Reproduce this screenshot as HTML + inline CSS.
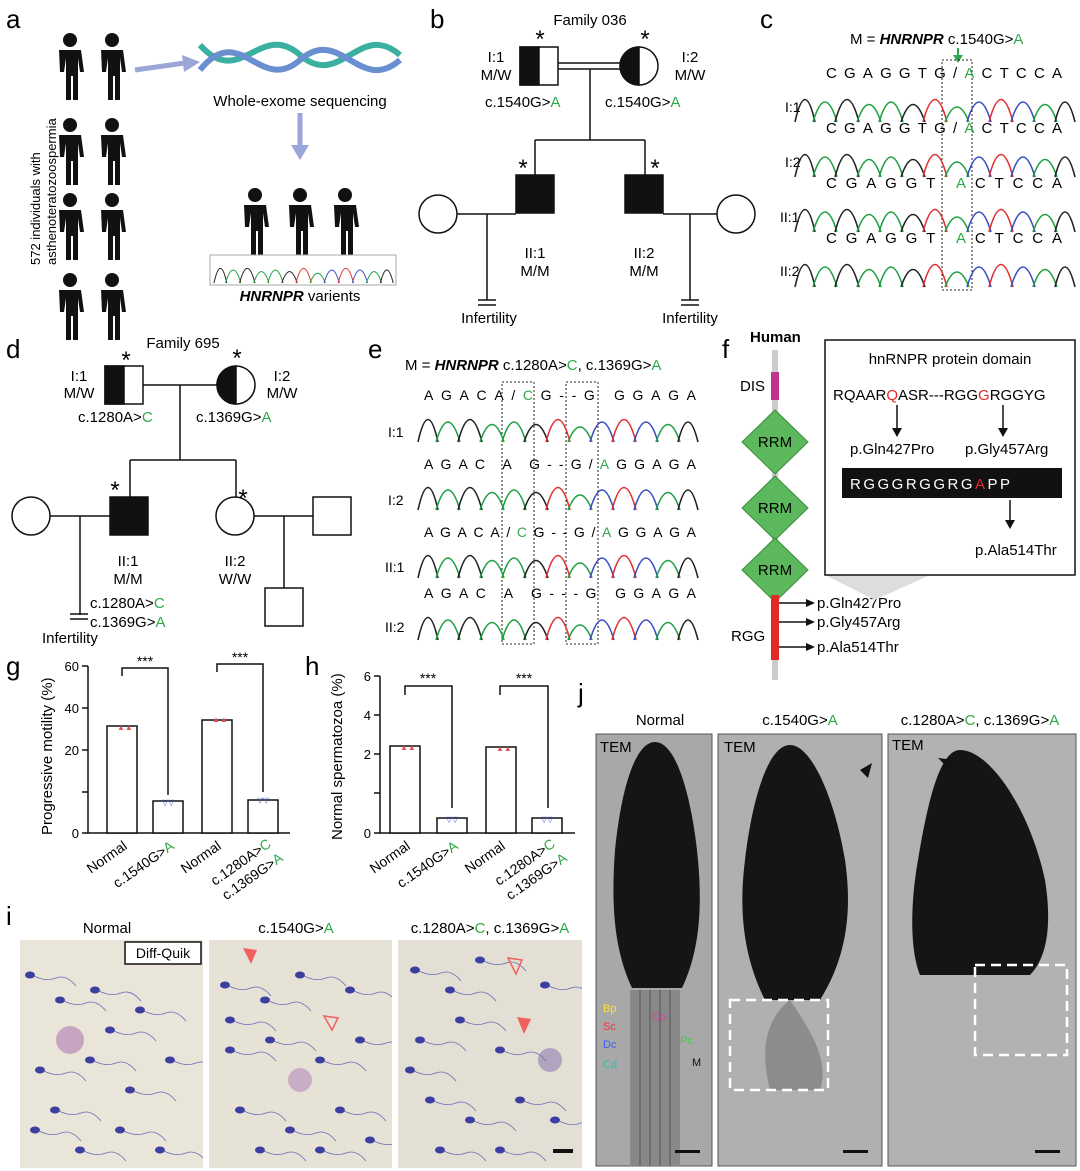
<!DOCTYPE html>
<html><head><meta charset="utf-8"><style>
html,body{margin:0;padding:0;background:#fff}
svg{display:block;font-family:"Liberation Sans",Arial,sans-serif}
.L{font-size:26px}
.t{font-size:15px}
.s{font-size:13px}
.g{fill:#2ea84a}
</style></head><body>
<svg width="1080" height="1171" viewBox="0 0 1080 1171" xmlns="http://www.w3.org/2000/svg">
<defs>
<g id="p"><circle cx="0" cy="-30" r="7"/><path d="M-11,-20 h22 l3,22 h-4 l-2,-14 v42 h-5 v-24 h-2 v24 h-5 v-42 l-2,14 h-4z"/></g>
<g id="ch" fill="none" stroke-width="1.6">
<path d="M0,40 Q10,-5 20,40" stroke="#222"/><path d="M18,40 Q30,0 42,40" stroke="#1fa040"/><path d="M40,40 Q52,-5 64,40" stroke="#222"/><path d="M62,40 Q74,5 86,40" stroke="#1fa040"/><path d="M84,40 Q96,0 108,40" stroke="#1fa040"/><path d="M106,40 Q118,5 130,40" stroke="#222"/><path d="M128,40 Q140,-5 152,40" stroke="#e03030"/><path d="M150,40 Q162,10 174,40" stroke="#1fa040"/><path d="M172,40 Q184,0 196,40" stroke="#3a4fc0"/><path d="M194,40 Q206,-5 218,40" stroke="#e03030"/><path d="M216,40 Q228,0 240,40" stroke="#3a4fc0"/><path d="M238,40 Q250,5 262,40" stroke="#1fa040"/><path d="M260,40 Q270,0 280,40" stroke="#222"/>
</g>
<g id="sp" fill="#3c3fa0"><ellipse cx="0" cy="0" rx="5" ry="3.5"/><path d="M4,1 q12,6 22,2 t20,8" fill="none" stroke="#6a6ab8" stroke-width="0.8"/></g>
<clipPath id="c1"><rect x="20" y="940" width="183" height="228"/></clipPath>
<clipPath id="c2"><rect x="209" y="940" width="183" height="228"/></clipPath>
<clipPath id="c3"><rect x="398" y="940" width="184" height="228"/></clipPath>
</defs>
<!-- a -->
<text x="6" y="28" class="L">a</text>
<g fill="#111">
<use href="#p" x="70" y="70"/><use href="#p" x="112" y="70"/>
<use href="#p" x="70" y="155"/><use href="#p" x="112" y="155"/>
<use href="#p" x="70" y="230"/><use href="#p" x="112" y="230"/>
<use href="#p" x="70" y="310"/><use href="#p" x="112" y="310"/>
<use href="#p" x="255" y="225"/><use href="#p" x="300" y="225"/><use href="#p" x="345" y="225"/>
</g>
<text transform="translate(40,265) rotate(-90)" class="s">572 individuals with</text>
<text transform="translate(56,265) rotate(-90)" class="s">asthenoteratozoospermia</text>
<path d="M135,70 L185,63" stroke="#9aa6d8" stroke-width="5"/><path d="M182,55 L200,62 L184,72z" fill="#9aa6d8"/>
<g fill="none" stroke-width="6">
<path d="M200,45 C240,90 260,20 300,55 C340,90 360,20 400,55" stroke="#3bb0a0"/>
<path d="M200,70 C240,20 260,95 300,60 C340,25 360,95 400,60" stroke="#6a8fd0"/>
</g>
<text x="300" y="106" class="t" text-anchor="middle">Whole-exome sequencing</text>
<path d="M300,113 V148" stroke="#9aa6d8" stroke-width="5"/><path d="M291,145 L300,160 L309,145z" fill="#9aa6d8"/>
<rect x="210" y="255" width="186" height="30" fill="#fff" stroke="#aaa"/>
<g transform="translate(214,257) scale(0.64,0.65)"><use href="#ch"/></g>
<text x="300" y="301" class="t" text-anchor="middle" font-style="italic" font-weight="bold">HNRNPR <tspan font-style="normal" font-weight="normal">varients</tspan></text>
<!-- b -->
<text x="430" y="28" class="L">b</text>
<text x="590" y="25" class="t" text-anchor="middle">Family 036</text>
<g stroke="#111" stroke-width="1.5" fill="none">
<rect x="520" y="47" width="38" height="38"/><rect x="520" y="47" width="19" height="38" fill="#111"/>
<circle cx="639" cy="66" r="19"/><path d="M639,47 A19,19 0 0,0 639,85z" fill="#111"/>
<path d="M558,63 H620 M558,69 H620 M590,69 V140 M535,140 H645 M535,140 V175 M645,140 V175"/>
<rect x="516" y="175" width="38" height="38" fill="#111"/><rect x="625" y="175" width="38" height="38" fill="#111"/>
<circle cx="438" cy="214" r="19"/><circle cx="736" cy="214" r="19"/>
<path d="M457,214 H516 M663,214 H717 M487,214 V300 M478,300 H496 M478,305 H496 M690,214 V300 M681,300 H699 M681,305 H699"/>
</g>
<text x="540" y="47" font-size="24" text-anchor="middle">*</text><text x="645" y="47" font-size="24" text-anchor="middle">*</text>
<text x="523" y="176" font-size="24" text-anchor="middle">*</text><text x="655" y="176" font-size="24" text-anchor="middle">*</text>
<text x="496" y="62" class="t" text-anchor="middle">I:1</text><text x="496" y="80" class="t" text-anchor="middle">M/W</text>
<text x="690" y="62" class="t" text-anchor="middle">I:2</text><text x="690" y="80" class="t" text-anchor="middle">M/W</text>
<text x="485" y="107" class="t">c.1540G&gt;<tspan class="g">A</tspan></text><text x="605" y="107" class="t">c.1540G&gt;<tspan class="g">A</tspan></text>
<text x="535" y="258" class="t" text-anchor="middle">II:1</text><text x="535" y="276" class="t" text-anchor="middle">M/M</text>
<text x="644" y="258" class="t" text-anchor="middle">II:2</text><text x="644" y="276" class="t" text-anchor="middle">M/M</text>
<text x="489" y="323" class="t" text-anchor="middle">Infertility</text><text x="690" y="323" class="t" text-anchor="middle">Infertility</text>
<!-- c -->
<text x="760" y="28" class="L">c</text>
<text x="850" y="44" class="t">M = <tspan font-style="italic" font-weight="bold">HNRNPR</tspan> c.1540G&gt;<tspan class="g">A</tspan></text>
<path d="M958,48 V56" stroke="#2ea84a" stroke-width="2"/><path d="M953,55 L958,63 L963,55z" fill="#2ea84a"/>
<rect x="942" y="60" width="30" height="230" fill="none" stroke="#222" stroke-dasharray="2,2"/>
<g font-size="15">
<text x="826" y="78" textLength="236" lengthAdjust="spacing">CGAGGTG/<tspan class="g">A</tspan>CTCCA</text>
<text x="826" y="133" textLength="236" lengthAdjust="spacing">CGAGGTG/<tspan class="g">A</tspan>CTCCA</text>
<text x="826" y="188" textLength="236" lengthAdjust="spacing">CGAGGT  <tspan class="g">A</tspan>CTCCA</text>
<text x="826" y="243" textLength="236" lengthAdjust="spacing">CGAGGT  <tspan class="g">A</tspan>CTCCA</text>
</g>
<g font-size="14"><text x="785" y="112">I:1</text><text x="785" y="167">I:2</text><text x="780" y="222">II:1</text><text x="780" y="276">II:2</text></g>
<use href="#ch" x="795" y="82"/><use href="#ch" x="795" y="137"/><use href="#ch" x="795" y="192"/><use href="#ch" x="795" y="247"/>
<!-- d -->
<text x="6" y="358" class="L">d</text>
<text x="183" y="348" class="t" text-anchor="middle">Family 695</text>
<g stroke="#111" stroke-width="1.5" fill="none">
<rect x="105" y="366" width="38" height="38"/><rect x="105" y="366" width="19" height="38" fill="#111"/>
<circle cx="236" cy="385" r="19"/><path d="M236,366 A19,19 0 0,0 236,404z" fill="#111"/>
<path d="M143,385 H217 M180,385 V460 M130,460 H236 M130,460 V497 M236,460 V497"/>
<rect x="110" y="497" width="38" height="38" fill="#111"/>
<circle cx="235" cy="516" r="19"/><circle cx="31" cy="516" r="19"/><rect x="313" y="497" width="38" height="38"/><rect x="265" y="588" width="38" height="38"/>
<path d="M50,516 H110 M254,516 H313 M80,516 V615 M70,614 H88 M70,619 H88 M284,516 V588"/>
</g>
<text x="126" y="368" font-size="24" text-anchor="middle">*</text><text x="237" y="366" font-size="24" text-anchor="middle">*</text>
<text x="115" y="498" font-size="24" text-anchor="middle">*</text><text x="243" y="506" font-size="24" text-anchor="middle">*</text>
<text x="79" y="381" class="t" text-anchor="middle">I:1</text><text x="79" y="398" class="t" text-anchor="middle">M/W</text>
<text x="282" y="381" class="t" text-anchor="middle">I:2</text><text x="282" y="398" class="t" text-anchor="middle">M/W</text>
<text x="78" y="422" class="t">c.1280A&gt;<tspan class="g">C</tspan></text><text x="196" y="422" class="t">c.1369G&gt;<tspan class="g">A</tspan></text>
<text x="128" y="566" class="t" text-anchor="middle">II:1</text><text x="128" y="584" class="t" text-anchor="middle">M/M</text>
<text x="235" y="566" class="t" text-anchor="middle">II:2</text><text x="235" y="584" class="t" text-anchor="middle">W/W</text>
<text x="90" y="608" class="t">c.1280A&gt;<tspan class="g">C</tspan></text><text x="90" y="627" class="t">c.1369G&gt;<tspan class="g">A</tspan></text>
<text x="42" y="643" class="t">Infertility</text>
<!-- e -->
<text x="368" y="358" class="L">e</text>
<text x="405" y="370" class="t">M = <tspan font-style="italic" font-weight="bold">HNRNPR</tspan> c.1280A&gt;<tspan class="g">C</tspan>, c.1369G&gt;<tspan class="g">A</tspan></text>
<rect x="502" y="382" width="32" height="262" fill="none" stroke="#222" stroke-dasharray="2,2"/>
<rect x="566" y="382" width="32" height="262" fill="none" stroke="#222" stroke-dasharray="2,2"/>
<g font-size="14">
<text x="424" y="400" textLength="272" lengthAdjust="spacing">AGACA/<tspan class="g">C</tspan>G--G GGAGA</text>
<text x="424" y="469" textLength="272" lengthAdjust="spacing">AGAC A G--G/<tspan class="g">A</tspan>GGAGA</text>
<text x="424" y="537" textLength="272" lengthAdjust="spacing">AGACA/<tspan class="g">C</tspan>G--G/<tspan class="g">A</tspan>GGAGA</text>
<text x="424" y="598" textLength="272" lengthAdjust="spacing">AGAC A G---G GGAGA</text>
<text x="388" y="437">I:1</text><text x="388" y="505">I:2</text><text x="385" y="572">II:1</text><text x="385" y="632">II:2</text>
</g>
<use href="#ch" x="418" y="402"/><use href="#ch" x="418" y="470"/><use href="#ch" x="418" y="538"/><use href="#ch" x="418" y="600"/>
<!-- f -->
<text x="722" y="358" class="L">f</text>
<text x="750" y="342" class="t" font-weight="bold">Human</text>
<rect x="772" y="350" width="6" height="330" fill="#ccc"/>
<rect x="771" y="372" width="8" height="28" fill="#c0348c"/>
<text x="740" y="391" class="t">DIS</text>
<g fill="#5cb85c" stroke="#3d8b3d"><path d="M775,410 L808,442 L775,474 L742,442z"/><path d="M775,476 L808,508 L775,540 L742,508z"/><path d="M775,538 L808,570 L775,602 L742,570z"/></g>
<g class="t" text-anchor="middle"><text x="775" y="447">RRM</text><text x="775" y="513">RRM</text><text x="775" y="575">RRM</text></g>
<rect x="771" y="595" width="8" height="65" fill="#e32828"/>
<text x="731" y="641" class="t">RGG</text>
<g stroke="#111" stroke-width="1.5"><path d="M779,603 H808 M779,622 H808 M779,647 H808"/></g>
<g fill="#111"><path d="M806,599 L815,603 L806,607z"/><path d="M806,618 L815,622 L806,626z"/><path d="M806,643 L815,647 L806,651z"/></g>
<text x="817" y="608" class="t">p.Gln427Pro</text><text x="817" y="627" class="t">p.Gly457Arg</text><text x="817" y="652" class="t">p.Ala514Thr</text>
<path d="M825,575 L930,575 L875,600z" fill="#ddd"/>
<rect x="825" y="340" width="250" height="235" fill="#fff" stroke="#111" stroke-width="1.5"/>
<text x="950" y="364" class="t" text-anchor="middle">hnRNPR protein domain</text>
<text x="833" y="400" class="t">RQAAR<tspan fill="#e32828">Q</tspan>ASR---RGG<tspan fill="#e32828">G</tspan>RGGYG</text>
<g stroke="#111" stroke-width="1.5"><path d="M897,405 V430 M1003,405 V430 M1010,500 V522"/></g>
<g fill="#111"><path d="M892,428 L897,437 L902,428z"/><path d="M998,428 L1003,437 L1008,428z"/><path d="M1005,520 L1010,529 L1015,520z"/></g>
<text x="850" y="454" class="t">p.Gln427Pro</text><text x="965" y="454" class="t">p.Gly457Arg</text>
<rect x="842" y="468" width="220" height="30" fill="#111"/>
<text x="850" y="489" class="t" fill="#fff" letter-spacing="2.5">RGGGRGGRG<tspan fill="#e32828">A</tspan>PP</text>
<text x="975" y="555" class="t">p.Ala514Thr</text>
<!-- g -->
<text x="6" y="675" class="L">g</text>
<text transform="translate(52,835) rotate(-90)" class="t">Progressive motility (%)</text>
<g stroke="#111" stroke-width="1.5" fill="#fff">
<path d="M88,666 V833 H290"/>
<path d="M82,666 H88 M82,708 H88 M82,750 H88 M82,792 H88 M82,833 H88"/>
<rect x="107" y="726" width="30" height="107"/><rect x="153" y="801" width="30" height="32"/><rect x="202" y="720" width="30" height="113"/><rect x="248" y="800" width="30" height="33"/>
<path d="M122,676 V668 H168 V795 M217,672 V664 H263 V792" fill="none"/>
</g>
<g font-size="13" text-anchor="end"><text x="79" y="671">60</text><text x="79" y="713">40</text><text x="79" y="755">20</text><text x="79" y="838">0</text></g>
<text x="145" y="666" font-size="14" text-anchor="middle">***</text><text x="240" y="662" font-size="14" text-anchor="middle">***</text>
<g fill="#e85050" font-size="8"><text x="117" y="730">▲▲</text><text x="212" y="722">▲▲</text></g>
<g fill="#4a5ad0" font-size="8"><text x="162" y="805">▽▽</text><text x="257" y="803">▽▽</text></g>
<g font-size="14" text-anchor="end">
<text transform="translate(128,848) rotate(-35)">Normal</text>
<text transform="translate(175,848) rotate(-35)">c.1540G&gt;<tspan class="g">A</tspan></text>
<text transform="translate(222,848) rotate(-35)">Normal</text>
<text transform="translate(272,846) rotate(-35)">c.1280A&gt;<tspan class="g">C</tspan></text>
<text transform="translate(284,860) rotate(-35)">c.1369G&gt;<tspan class="g">A</tspan></text></g>
<!-- h -->
<text x="305" y="675" class="L">h</text>
<text transform="translate(342,840) rotate(-90)" class="t">Normal spermatozoa (%)</text>
<g stroke="#111" stroke-width="1.5" fill="#fff">
<path d="M380,676 V833 H575"/>
<path d="M374,676 H380 M374,715 H380 M374,754 H380 M374,793 H380 M374,833 H380"/>
<rect x="390" y="746" width="30" height="87"/><rect x="437" y="818" width="30" height="15"/><rect x="486" y="747" width="30" height="86"/><rect x="532" y="818" width="30" height="15"/>
<path d="M405,695 V686 H452 V808 M500,695 V686 H548 V808" fill="none"/>
</g>
<g font-size="13" text-anchor="end"><text x="371" y="681">6</text><text x="371" y="720">4</text><text x="371" y="759">2</text><text x="371" y="838">0</text></g>
<text x="428" y="683" font-size="14" text-anchor="middle">***</text><text x="524" y="683" font-size="14" text-anchor="middle">***</text>
<g fill="#e85050" font-size="8"><text x="400" y="750">▲▲</text><text x="496" y="751">▲▲</text></g>
<g fill="#4a5ad0" font-size="8"><text x="446" y="822">▽▽</text><text x="541" y="822">▽▽</text></g>
<g font-size="14" text-anchor="end">
<text transform="translate(411,848) rotate(-35)">Normal</text>
<text transform="translate(459,848) rotate(-35)">c.1540G&gt;<tspan class="g">A</tspan></text>
<text transform="translate(506,848) rotate(-35)">Normal</text>
<text transform="translate(556,846) rotate(-35)">c.1280A&gt;<tspan class="g">C</tspan></text>
<text transform="translate(568,860) rotate(-35)">c.1369G&gt;<tspan class="g">A</tspan></text></g>
<!-- i -->
<text x="6" y="925" class="L">i</text>
<text x="107" y="933" class="t" text-anchor="middle">Normal</text>
<text x="296" y="933" class="t" text-anchor="middle">c.1540G&gt;<tspan class="g">A</tspan></text>
<text x="490" y="933" class="t" text-anchor="middle">c.1280A&gt;<tspan class="g">C</tspan>, c.1369G&gt;<tspan class="g">A</tspan></text>
<rect x="20" y="940" width="183" height="228" fill="#e9e5d8"/>
<rect x="209" y="940" width="183" height="228" fill="#e6e2d6"/>
<rect x="398" y="940" width="184" height="228" fill="#e3dfd4"/>
<circle cx="70" cy="1040" r="14" fill="#b58ab8" opacity="0.7"/>
<circle cx="300" cy="1080" r="12" fill="#b58ab8" opacity="0.6"/><circle cx="550" cy="1060" r="12" fill="#9a8ab8" opacity="0.7"/>
<g clip-path="url(#c1)">
<use href="#sp" x="30" y="975"/><use href="#sp" x="60" y="1000"/><use href="#sp" x="95" y="990"/><use href="#sp" x="140" y="1010"/><use href="#sp" x="40" y="1070"/><use href="#sp" x="90" y="1060"/><use href="#sp" x="130" y="1090"/><use href="#sp" x="170" y="1060"/><use href="#sp" x="35" y="1130"/><use href="#sp" x="80" y="1150"/><use href="#sp" x="120" y="1130"/><use href="#sp" x="160" y="1150"/><use href="#sp" x="110" y="1030"/><use href="#sp" x="55" y="1110"/>
</g>
<g clip-path="url(#c2)">
<use href="#sp" x="225" y="985"/><use href="#sp" x="265" y="1000"/><use href="#sp" x="300" y="975"/><use href="#sp" x="350" y="990"/><use href="#sp" x="230" y="1050"/><use href="#sp" x="270" y="1040"/><use href="#sp" x="320" y="1060"/><use href="#sp" x="360" y="1040"/><use href="#sp" x="240" y="1110"/><use href="#sp" x="290" y="1130"/><use href="#sp" x="340" y="1110"/><use href="#sp" x="260" y="1150"/><use href="#sp" x="320" y="1150"/><use href="#sp" x="230" y="1020"/><use href="#sp" x="370" y="1140"/>
</g>
<g clip-path="url(#c3)">
<use href="#sp" x="415" y="970"/><use href="#sp" x="450" y="990"/><use href="#sp" x="480" y="960"/><use href="#sp" x="545" y="985"/><use href="#sp" x="420" y="1040"/><use href="#sp" x="460" y="1020"/><use href="#sp" x="500" y="1050"/><use href="#sp" x="430" y="1100"/><use href="#sp" x="470" y="1120"/><use href="#sp" x="520" y="1100"/><use href="#sp" x="440" y="1150"/><use href="#sp" x="500" y="1150"/><use href="#sp" x="555" y="1120"/><use href="#sp" x="410" y="1070"/>
</g>
<rect x="125" y="942" width="76" height="22" fill="#fff" stroke="#111" stroke-width="1.5"/>
<text x="163" y="958" font-size="14" text-anchor="middle">Diff-Quik</text>
<path d="M243,948 L251,964 L257,950z" fill="#f06060"/>
<path d="M324,1016 L332,1030 L338,1018z" fill="none" stroke="#f06060" stroke-width="1.5"/>
<path d="M508,958 L516,974 L522,960z" fill="none" stroke="#f06060" stroke-width="1.5"/>
<path d="M517,1017 L524,1034 L531,1019z" fill="#f06060"/>
<rect x="553" y="1149" width="20" height="4" fill="#111"/>
<!-- j -->
<text x="578" y="702" class="L">j</text>
<text x="660" y="725" class="t" text-anchor="middle">Normal</text>
<text x="800" y="725" class="t" text-anchor="middle">c.1540G&gt;<tspan class="g">A</tspan></text>
<text x="980" y="725" class="t" text-anchor="middle">c.1280A&gt;<tspan class="g">C</tspan>, c.1369G&gt;<tspan class="g">A</tspan></text>
<rect x="596" y="734" width="116" height="432" fill="#a8a8a8" stroke="#555"/>
<rect x="718" y="734" width="164" height="432" fill="#b0b0b0" stroke="#555"/>
<rect x="888" y="734" width="188" height="432" fill="#b2b2b2" stroke="#555"/>
<rect x="630" y="990" width="50" height="176" fill="#888"/>
<g stroke="#666" stroke-width="1.5"><path d="M640,990 V1166 M650,990 V1166 M660,990 V1166 M670,990 V1166"/></g>
<path d="M655,742 C675,742 690,790 697,850 C703,905 700,950 682,988 L632,988 C614,950 611,905 615,850 C621,790 635,742 655,742z" fill="#151515"/>
<path d="M790,745 C812,745 835,800 845,860 C853,915 845,960 820,1000 L765,1000 C745,960 738,915 745,860 C752,800 768,745 790,745z" fill="#151515"/>
<path d="M960,750 C990,750 1030,810 1045,880 C1053,930 1045,960 1030,975 L920,975 C910,950 910,905 918,860 C928,800 940,750 960,750z" fill="#151515"/>
<path d="M790,1000 C810,1030 830,1060 820,1090 L770,1090 C760,1050 765,1020 790,1000z" fill="#8c8c8c"/>
<rect x="730" y="1000" width="98" height="90" fill="none" stroke="#fff" stroke-width="2.5" stroke-dasharray="10,6"/>
<rect x="975" y="965" width="92" height="90" fill="none" stroke="#fff" stroke-width="2.5" stroke-dasharray="10,6"/>
<g class="t" font-size="14"><text x="600" y="752">TEM</text><text x="724" y="752">TEM</text><text x="892" y="750">TEM</text></g>
<path d="M872,763 L860,770 L868,778z" fill="#111"/><path d="M938,758 L950,770 L954,760z" fill="#111"/>
<g font-size="11"><text x="603" y="1012" fill="#ffe030">Bp</text><text x="603" y="1030" fill="#ff3030">Sc</text><text x="603" y="1048" fill="#4060ff">Dc</text><text x="603" y="1068" fill="#30c0b0">Cd</text><text x="652" y="1020" fill="#e040a0">Cp</text><text x="680" y="1044" fill="#40d040">Pc</text><text x="692" y="1066" fill="#111">M</text></g>
<rect x="675" y="1150" width="25" height="3" fill="#111"/><rect x="843" y="1150" width="25" height="3" fill="#111"/><rect x="1035" y="1150" width="25" height="3" fill="#111"/>
</svg>
</body></html>
